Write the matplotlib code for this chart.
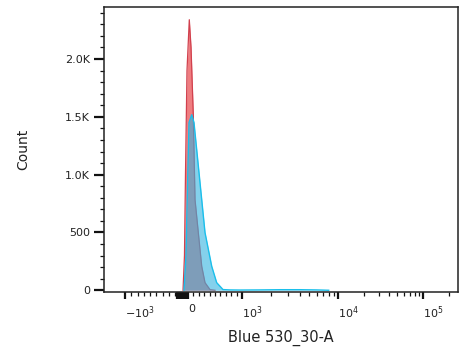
import numpy as np
import matplotlib
matplotlib.use('Agg')
import matplotlib.pyplot as plt

# histogram traces (channel value, count)
red_x = [-79, -56, -40, -16, 24, 56, 98, 130, 191, 254, 315, 407, 500]
red_y = [0, 300, 1000, 1900, 2340, 2100, 1518, 784, 499, 208, 66, 6, 0]

blue_x = [-63, -32, -8, 19, 69, 111, 161, 254, 315, 439, 531, 648, 778, 963,
          1500, 2500, 4000, 6000, 8000]
blue_y = [0, 300, 900, 1450, 1518, 1450, 1216, 784, 499, 208, 66, 6, 3, 2,
          3, 5, 5, 3, 0]

y_ticks = [0, 500, 1000, 1500, 2000]
y_labels = ['0', '500', '1.0K', '1.5K', '2.0K']
x_ticks = [-1000, 0, 1000, 10000, 100000]
x_labels = ['$-10^3$', '0', '$10^3$', '$10^4$', '$10^5$']

# biexponential-like display scale (linear near zero, log above 10^3)
U_ANCH = [-2, -1, 0, 1, 2, 3, 4]
P_ANCH = [62, 125, 188, 242, 338, 423, 508]


def to_u(x):
    x = np.asarray(x, float)
    a = np.abs(x)
    return np.where(a <= 1000, x / 1000,
                    np.sign(x) * (1 + np.log10(np.maximum(a, 1000) / 1000)))


def fwd(x):
    return np.interp(to_u(x), U_ANCH, P_ANCH)


def inv(p):
    u = np.interp(p, P_ANCH, U_ANCH)
    a = np.abs(u)
    return np.where(a <= 1, u * 1000, np.sign(u) * 1000 * 10 ** (np.maximum(a, 1) - 1))


fig = plt.figure(figsize=(4.6, 3.49), dpi=100)
ax = fig.add_axes([104 / 460, 1 - 292 / 349, 354 / 460, 285 / 349])
ax.set_xscale('function', functions=(fwd, inv))

ax.fill_between(red_x, red_y, color=(0.92, 0.36, 0.38), alpha=0.8, lw=0, zorder=1)
ax.plot(red_x, red_y, color=(0.82, 0.25, 0.30), lw=0.9, zorder=2)
ax.fill_between(blue_x, blue_y, color=(0.20, 0.70, 0.88), alpha=0.6, lw=0, zorder=3)
ax.plot(blue_x, blue_y, color=(0.10, 0.75, 0.92), lw=1.0, zorder=4)

ax.set_xlim(-2154, 258000)
ax.set_ylim(-15, 2450)

ax.set_yticks(y_ticks)
ax.set_yticklabels(y_labels)
ax.set_yticks(np.arange(0, 2401, 100), minor=True)

near_zero = [-170, -140, -110, -80, -50, -20]
ax.set_xticks(x_ticks + near_zero)
ax.set_xticklabels(x_labels + [''] * len(near_zero), ha='left')
minor = (list(range(-900, 0, 100)) + list(range(100, 1000, 100))
         + list(range(2000, 10000, 1000)) + list(range(20000, 100000, 10000))
         + [200000])
ax.set_xticks(minor, minor=True)

ax.tick_params(which='major', length=7, width=1.6, color='#111',
               labelsize=8, labelcolor='#222', pad=3)
ax.tick_params(which='minor', length=3, width=0.9, color='#111')
ax.tick_params(axis='x', which='major', length=5, pad=4)
ax.tick_params(axis='x', which='minor', length=3)

for s in ax.spines.values():
    s.set_linewidth(1.1)
    s.set_color('#222')

ax.set_xlabel('Blue 530_30-A', fontsize=10.5, color='#222', labelpad=6)
ax.set_ylabel('Count', fontsize=10, color='#222', labelpad=25)

fig.savefig('out.png', dpi=100)
